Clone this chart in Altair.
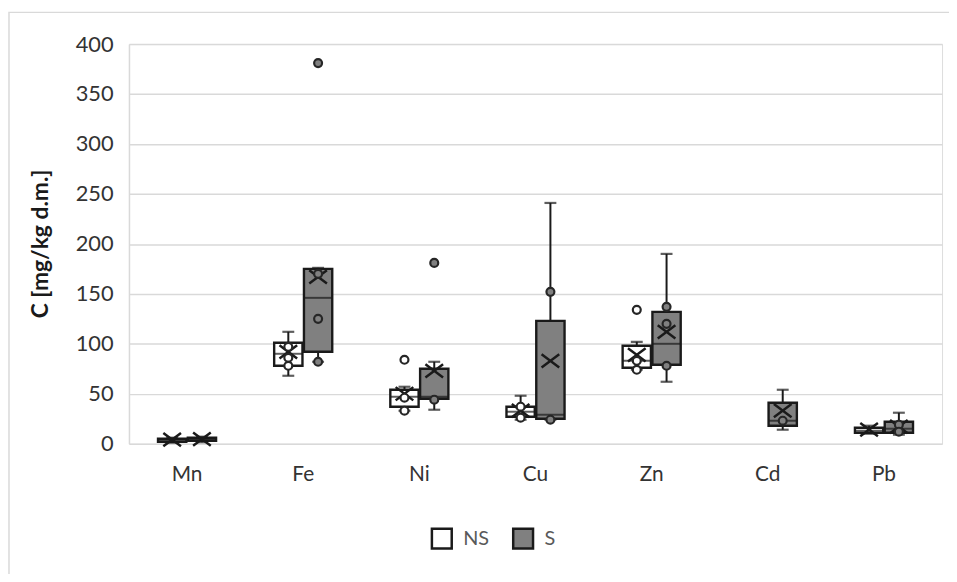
import altair as alt
import pandas as pd

elements = ["Mn", "Fe", "Ni", "Cu", "Zn", "Cd", "Pb"]
groups = ["NS", "S"]

# Box-and-whisker summary values (None = no data)
ns_low  = [1.0, 68, 33, 24, 74, None, 10]
ns_q1   = [2.0, 78, 37, 27, 76, None, 11]
ns_med  = [3.0, 90, 47, 32, 83, None, 13]
ns_q3   = [5.0, 101, 54, 37, 98, None, 16]
ns_high = [6.0, 112, 57, 48, 102, None, 18]
ns_mean = [4.0, 92, 50, 33, 89, None, 14]

s_low  = [1.5, 82, 34, 24, 62, 14, 9]
s_q1   = [3.0, 92, 45, 25, 79, 18, 11]
s_med  = [4.0, 146, 47, 29, 100, 23, 15]
s_q3   = [6.0, 175, 75, 123, 132, 41, 22]
s_high = [7.0, 176, 82, 241, 190, 54, 31]
s_mean = [4.5, 167, 73, 83, 112, 33, 17]

# Individual points (inner points and outliers)
ns_pt_element = ["Fe", "Fe", "Fe", "Ni", "Ni", "Ni", "Cu", "Cu", "Zn", "Zn", "Zn"]
ns_pt_value   = [97, 86, 78, 84, 46, 33, 37, 26, 134, 83, 74]
s_pt_element = ["Fe", "Fe", "Fe", "Fe", "Ni", "Ni", "Cu", "Cu", "Zn", "Zn", "Zn", "Cd", "Pb", "Pb"]
s_pt_value   = [381, 170, 125, 82, 181, 44, 152, 24, 137, 120, 78, 23, 19, 12]

rows = []
for g, arrs in (("NS", (ns_low, ns_q1, ns_med, ns_q3, ns_high, ns_mean)),
                ("S", (s_low, s_q1, s_med, s_q3, s_high, s_mean))):
    for i, el in enumerate(elements):
        if arrs[0][i] is None:
            continue
        rows.append(dict(element=el, group=g, low=arrs[0][i], q1=arrs[1][i], med=arrs[2][i],
                         q3=arrs[3][i], high=arrs[4][i], mean=arrs[5][i]))
box_df = pd.DataFrame(rows)

pts_df = pd.DataFrame(
    [dict(element=e, group="NS", value=v) for e, v in zip(ns_pt_element, ns_pt_value)]
    + [dict(element=e, group="S", value=v) for e, v in zip(s_pt_element, s_pt_value)]
)

FONT = "Lato"
INK = "#1a1a1a"
GRAY = "#808080"

x_enc = alt.X("element:N", sort=elements,
              scale=alt.Scale(domain=elements, paddingInner=0, paddingOuter=0),
              axis=alt.Axis(title=None, labelAngle=0, ticks=False, domain=False,
                            labelPadding=20, labelFontSize=21, labelColor="#333333",
                            labelFont=FONT, grid=False))
xo_enc = alt.XOffset("group:N", scale=alt.Scale(domain=groups, paddingInner=0.05, paddingOuter=0.975))

y_axis = alt.Axis(values=[0, 50, 100, 150, 200, 250, 300, 350, 400], grid=True,
                  gridColor="#d9d9d9", gridWidth=1.5, ticks=False, domainColor="#d9d9d9",
                  domainWidth=1.5, labelPadding=16, labelFontSize=22, labelColor="#333333",
                  labelFont=FONT, titleFont=FONT, titleFontSize=23, titleFontWeight="bold",
                  titleColor="#1a1a1a", titleX=-89, titleY=201, titleBaseline="middle")
y_scale = alt.Scale(domain=[0, 400], nice=False)
TITLE = "C [mg/kg d.m.]"

def Y(field):
    return alt.Y(field, scale=y_scale, axis=y_axis, title=TITLE)

base = alt.Chart(box_df)

whisker = base.mark_rule(color=INK, strokeWidth=2).encode(
    x=x_enc, xOffset=xo_enc, y=Y("low:Q"), y2="high:Q")

caps = base.transform_fold(["low", "high"], as_=["kind", "value"]).mark_tick(
    color=INK, size=12, thickness=2.2).encode(x=x_enc, xOffset=xo_enc, y=Y("value:Q"))

box = base.mark_bar(stroke=INK, strokeWidth=2.4).encode(
    x=x_enc, xOffset=xo_enc, y=Y("q1:Q"), y2="q3:Q",
    fill=alt.Fill("group:N", scale=alt.Scale(domain=groups, range=["#ffffff", GRAY]),
                  legend=alt.Legend(title=None, orient="none", legendX=304, legendY=487,
                                    direction="horizontal", symbolType="square",
                                    symbolSize=400, symbolStrokeColor=INK,
                                    symbolStrokeWidth=2.5, labelFontSize=20,
                                    labelColor="#595959", labelFont=FONT,
                                    columnPadding=18, labelOffset=10)))

median = base.mark_tick(color=INK, size=28, thickness=2).encode(
    x=x_enc, xOffset=xo_enc, y=Y("med:Q"))

mean = base.mark_point(shape="M-1.2,-0.9L1.2,0.9M-1.2,0.9L1.2,-0.9", filled=False,
                       color=INK, strokeWidth=2.5, size=220, opacity=1).encode(
    x=x_enc, xOffset=xo_enc, y=Y("mean:Q"))

pts_ns = alt.Chart(pts_df).transform_filter(alt.datum.group == "NS").mark_point(
    shape="circle", filled=True, fill="#ffffff", stroke="#262626", strokeWidth=2.2,
    size=64, opacity=1).encode(x=x_enc, xOffset=xo_enc, y=Y("value:Q"))

pts_s = alt.Chart(pts_df).transform_filter(alt.datum.group == "S").mark_point(
    shape="circle", filled=True, fill=GRAY, stroke="#262626", strokeWidth=2.2,
    size=64, opacity=1).encode(x=x_enc, xOffset=xo_enc, y=Y("value:Q"))

frame = alt.Chart(pd.DataFrame({"f": [0]})).mark_rect(
    fill=None, stroke="#d9d9d9", strokeWidth=1.5).encode(
    x=alt.value(-121), x2=alt.value(900), y=alt.value(-32), y2=alt.value(700))

chart = alt.layer(frame, whisker, box, median, caps, mean, pts_ns, pts_s).properties(
    width=820, height=403,
    autosize=alt.AutoSizeParams(type="none"),
    padding={"left": 122, "top": 34, "right": 7, "bottom": 129},
).configure_view(stroke=None).configure(background="white")

chart.save("out.html", embed_options={"renderer": "svg", "actions": False})
